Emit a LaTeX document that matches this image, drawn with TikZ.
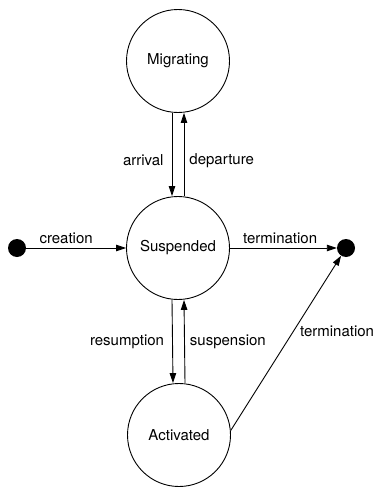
\documentclass[tikz,border=0pt]{standalone}
\usepackage{fontspec}
\setmainfont{TeX Gyre Heros}
\usetikzlibrary{arrows.meta}

\begin{document}
\begin{tikzpicture}[x=1pt, y=-1pt,
    stnode/.style={draw, circle, line width=0.9pt, minimum size=103pt, inner sep=0pt, font=\fontsize{15}{18}\selectfont},
    pseudo/.style={fill, circle, minimum size=18pt, inner sep=0pt},
    arr/.style={-{Triangle[length=10pt, width=6.5pt]}, line width=0.9pt},
    lbl/.style={font=\fontsize{15}{18}\selectfont, inner sep=2pt}]
    \useasboundingbox (0,0) rectangle (383,487);

    % states
    \node[stnode] (mig) at (178,61) {Migrating};
    \node[stnode] (sus) at (178,248) {Suspended};
    \node[stnode] (act) at (179,435) {Activated};
    \node[pseudo] (init) at (17,248) {};
    \node[pseudo] (fin) at (346,248) {};

    % transitions
    \draw[arr] (init) -- (sus) node[lbl, pos=0.4, above=2pt] {creation};
    \draw[arr] (sus) -- (fin) node[lbl, pos=0.47, above=2pt] {termination};
    \draw[arr] ([xshift=-6pt]mig.south) -- ([xshift=-6pt]sus.north)
        node[lbl, pos=0.57, left=6pt] {arrival};
    \draw[arr] ([xshift=6pt]sus.north) -- ([xshift=6pt]mig.south)
        node[lbl, pos=0.43, right=3pt] {departure};
    \draw[arr] ([xshift=-6pt]sus.south) -- ([xshift=-6pt]act.north)
        node[lbl, midway, left=6pt] {resumption};
    \draw[arr] ([xshift=6pt]act.north) -- ([xshift=6pt]sus.south)
        node[lbl, midway, right=3pt] {suspension};
    \draw[arr] (act.5) -- (fin) node[lbl, pos=0.57, right=4pt] {termination};
\end{tikzpicture}
\end{document}
